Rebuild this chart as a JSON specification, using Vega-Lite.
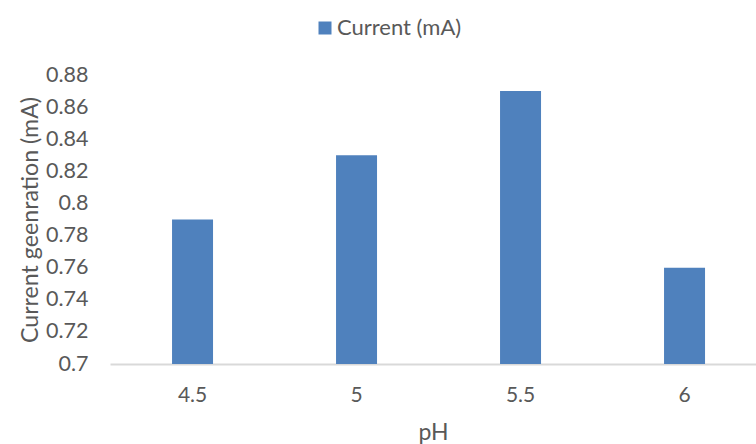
{
  "$schema": "https://vega.github.io/schema/vega-lite/v6.json",
  "autosize": "none",
  "width": 646,
  "height": 289,
  "padding": {"left": 110, "top": 75, "right": 0, "bottom": 80},
  "background": "white",
  "config": {
    "view": {"stroke": null},
    "font": "Lato",
    "text": {"color": "#595959"}
  },
  "data": {
    "values": [
      {"pH": "4.5", "current": 0.79},
      {"pH": "5", "current": 0.83},
      {"pH": "5.5", "current": 0.87},
      {"pH": "6", "current": 0.76}
    ]
  },
  "mark": {"type": "bar", "color": "#4F81BD"},
  "encoding": {
    "x": {
      "field": "pH",
      "type": "nominal",
      "sort": null,
      "scale": {"paddingInner": 0.75, "paddingOuter": 0.3445, "align": 0.549},
      "axis": {
        "title": "pH",
        "labelAngle": 0,
        "ticks": false,
        "tickSize": 0,
        "domainColor": "#D9D9D9",
        "domainWidth": 2,
        "labelFont": "Lato",
        "labelFontSize": 21,
        "labelColor": "#595959",
        "labelPadding": 31,
        "labelBaseline": "middle",
        "titleFont": "Lato",
        "titleFontSize": 23,
        "titleFontWeight": "normal",
        "titleColor": "#595959",
        "titleY": 68,
        "titleBaseline": "middle"
      }
    },
    "y": {
      "field": "current",
      "type": "quantitative",
      "scale": {"domain": [0.7, 0.88], "zero": false, "nice": false},
      "axis": {
        "title": "Current geenration (mA)",
        "values": [0.7, 0.72, 0.74, 0.76, 0.78, 0.8, 0.82, 0.84, 0.86, 0.88],
        "format": "~g",
        "domain": false,
        "ticks": false,
        "tickSize": 0,
        "grid": false,
        "labelFont": "Lato",
        "labelFontSize": 21.5,
        "labelColor": "#595959",
        "labelPadding": 22,
        "titleFont": "Lato",
        "titleFontSize": 23.2,
        "titleFontWeight": "normal",
        "titleColor": "#595959",
        "titleAngle": -90,
        "titleX": -80,
        "titleY": 144.5,
        "titleAlign": "center",
        "titleBaseline": "middle"
      }
    },
    "y2": {"datum": 0.7},
    "color": {
      "datum": "Current (mA)",
      "type": "nominal",
      "scale": {"range": ["#4F81BD"]},
      "legend": {
        "title": null,
        "orient": "none",
        "legendX": 204,
        "legendY": -58,
        "padding": 0,
        "symbolType": "square",
        "symbolSize": 169,
        "symbolStrokeWidth": 0,
        "symbolOpacity": 1,
        "labelFont": "Lato",
        "labelFontSize": 22,
        "labelColor": "#595959",
        "labelOffset": 1
      }
    }
  }
}
